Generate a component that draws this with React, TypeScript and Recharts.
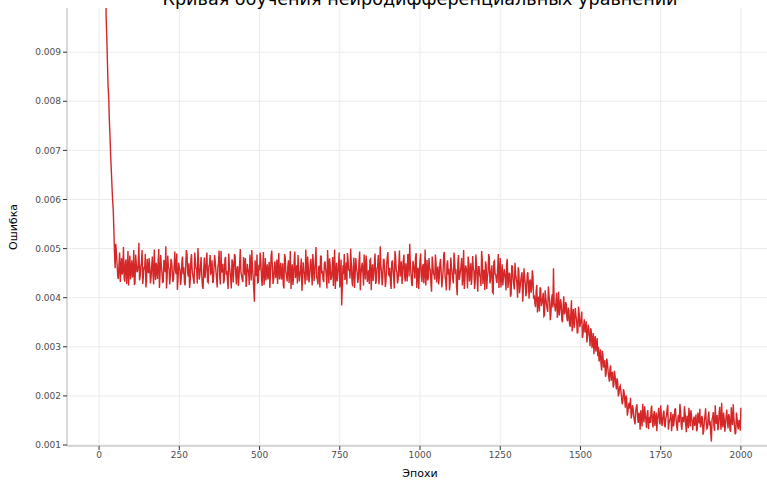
import React from "react"
import { LineChart, Line, XAxis, YAxis, CartesianGrid } from "recharts"

// loss values are stored in units of 1e-5
const LOSS_UNIT = 1e-5

const earlyEpochs = [0, 5, 10, 15, 20, 22, 24, 26, 28, 30, 32, 34, 36, 38, 40, 42, 44, 46, 48, 50, 52]
const earlyLoss = [4500, 3000, 2100, 1450, 1080, 970, 930, 880, 830, 810, 760, 730, 690, 660, 630, 600, 580, 540, 490, 460, 510]

const epochStep = 4

// epochs 56, 60, ... 2000
const lossA = [
  470, 438, 492, 461, 447, 503, 433, 478, 452, 425, 486, 459, 441, 497, 430, 468, 455, 512, 444, 472, 428, 463, 489, 437, 458,
  481, 429, 466, 445, 498, 436, 459, 474, 420, 487, 450, 433, 469, 505, 441, 462, 427, 479, 455, 438, 494, 448, 416, 471, 457,
  439, 484, 462, 425, 497, 451, 470, 434, 489, 446, 428, 475, 458, 501, 437, 466, 443, 418, 482, 454, 492, 431, 468, 449, 476,
  433, 487, 455, 421, 470, 442, 495, 460, 429, 478, 447, 436, 490, 452, 419, 473, 458, 484, 427, 464, 440, 499, 445, 432, 469,
  481, 438, 457, 426, 472, 497, 444, 392, 463, 488, 431, 456, 475, 424, 493, 447, 435, 468, 452, 420, 485, 461, 437, 474, 449,
  428, 491, 454, 437, 470, 419, 482, 445, 463, 430, 495, 451, 426, 477, 440, 466, 487, 433, 458, 414, 472, 449, 498, 435, 460,
  443, 479, 425, 467, 452, 503, 438, 462, 421, 486, 455, 432, 474, 446, 497, 429, 468, 441, 483, 457, 418, 471, 450, 492, 436,
  384, 466, 489, 443, 427, 475, 458, 500, 434, 463, 420, 481, 452, 439, 494, 447, 471, 425, 460, 486, 432, 456, 477, 415, 468,
  449, 490, 436, 463, 427, 505, 454, 441, 478, 422, 466, 493, 445, 431, 472, 458, 419, 484, 451, 437, 496, 462, 428, 475, 444,
  470, 433, 486, 510, 448, 424, 467, 439, 491, 455, 418, 476, 443, 462, 429, 498, 450, 435, 481, 457, 412, 469, 446, 488, 431,
  464, 440, 479, 421, 455, 493, 434, 468, 447, 415, 482, 451, 429, 474, 458, 405, 487, 443, 466, 425, 497, 438, 460, 419, 472,
  449, 426, 485, 455, 432, 470, 412, 463, 441, 495, 428, 457, 474, 418, 451, 482, 437, 466, 409, 475, 447, 430, 489, 456, 421,
  468, 440, 452, 415, 479, 433, 448, 407, 463, 426, 471, 438, 400, 455, 421, 446, 392, 460, 430, 413, 452, 398, 437, 419, 444,
  405, 381, 426, 396, 372, 418, 389, 410, 364, 401, 378, 423, 391, 368, 407, 460, 383, 395, 359, 412, 376, 388, 350, 403, 370,
  386, 352, 374, 341, 395, 362, 338, 379, 355, 330, 368, 347, 372, 325, 356, 334, 309, 345, 320, 338, 297, 328, 311, 290, 318,
  300, 279, 265, 292, 258, 273, 246, 268, 240, 255, 231, 249, 222, 240, 213, 228, 204, 221, 197, 189, 208, 176, 195, 168, 186,
  196, 162, 175, 150, 168, 183, 145, 160, 171, 138, 157, 179, 149, 164, 132, 158, 172, 147, 161, 139, 166, 153, 176, 142, 159,
  148, 170, 136, 159, 182, 144, 155, 128, 163, 149, 175, 138, 157, 146, 168, 131, 152, 179, 141, 160, 134, 156, 171, 145, 150,
  139, 162, 133, 151, 174, 142, 155, 127, 160, 146, 135, 168, 149, 107, 157, 138, 181, 143, 130, 164, 148, 186, 136, 153, 141,
  172, 134, 158, 127, 149, 183, 139, 125, 155, 132, 146, 176,
]

// epochs 58, 62, ... 1998
const lossB = [
  445, 467, 432, 481, 456, 440, 472, 428, 495, 461, 437, 476, 449, 426, 488, 452, 470, 435, 463, 497, 443, 458, 421, 479, 450,
  462, 441, 484, 427, 456, 471, 438, 499, 448, 465, 430, 477, 452, 419, 486, 459, 444, 473, 432, 468, 455, 490, 437, 461, 426,
  473, 448, 431, 466, 489, 443, 420, 478, 455, 437, 492, 460, 429, 471, 446, 483, 423, 457, 440, 475, 433, 464, 487, 451, 430,
  458, 474, 439, 462, 496, 427, 451, 469, 436, 483, 455, 418, 466, 441, 478, 431, 489, 445, 460, 424, 471, 452, 437, 483, 446,
  422, 469, 451, 488, 435, 460, 417, 476, 444, 430, 467, 492, 441, 459, 426, 481, 456, 437, 473, 449, 496, 428, 462, 440, 478,
  463, 437, 471, 445, 426, 489, 452, 433, 476, 457, 418, 468, 440, 494, 455, 429, 461, 446, 480, 436, 452, 427, 466, 484, 431,
  468, 452, 489, 434, 476, 441, 427, 465, 483, 449, 437, 470, 458, 419, 462, 480, 436, 455, 424, 498, 447, 433, 466, 421, 478,
  425, 448, 436, 472, 491, 455, 439, 468, 423, 482, 447, 460, 430, 474, 415, 463, 451, 488, 437, 469, 445, 428, 479, 456, 434,
  471, 428, 459, 487, 440, 466, 425, 478, 452, 434, 483, 447, 461, 418, 476, 439, 495, 456, 429, 468, 443, 474, 450, 488, 433,
  452, 489, 443, 466, 428, 475, 455, 482, 420, 461, 447, 490, 432, 469, 453, 425, 477, 441, 460, 429, 484, 448, 437, 470, 456,
  427, 469, 452, 436, 488, 445, 415, 476, 459, 431, 463, 439, 492, 448, 422, 470, 436, 455, 481, 443, 418, 466, 451, 484, 433,
  470, 441, 459, 418, 488, 437, 463, 446, 424, 478, 452, 415, 467, 443, 489, 429, 456, 411, 473, 448, 435, 462, 420, 481, 440,
  425, 458, 436, 470, 420, 451, 402, 466, 439, 417, 448, 428, 462, 409, 435, 452, 418, 440, 403, 447, 425, 434, 410, 456, 398,
  389, 414, 370, 402, 421, 383, 399, 362, 415, 387, 371, 405, 354, 396, 380, 389, 372, 410, 377, 364, 397, 355, 382, 366, 391,
  357, 380, 345, 369, 331, 377, 350, 363, 327, 382, 340, 358, 318, 344, 329, 352, 322, 336, 301, 330, 314, 285, 322, 305, 281,
  270, 295, 252, 283, 262, 239, 276, 251, 229, 262, 245, 217, 251, 226, 236, 199, 218, 210, 183, 214, 192, 201, 160, 181, 174,
  154, 181, 158, 142, 177, 155, 166, 131, 153, 184, 146, 163, 135, 171, 150, 145, 180, 136, 169, 152, 128, 162, 147, 181, 139,
  163, 141, 155, 173, 131, 150, 167, 145, 138, 172, 152, 129, 161, 184, 140, 157, 146, 165, 126, 153, 176, 138, 161, 130, 158,
  151, 128, 166, 144, 136, 159, 121, 148, 175, 133, 158, 140, 124, 152, 167, 129, 149, 161, 137, 178, 131, 145, 166, 127, 159,
  148, 163, 131, 177, 141, 156, 122, 166, 138, 151, 129,
]

const xTicks = [0, 250, 500, 750, 1000, 1250, 1500, 1750, 2000]
const yTicks = [0.001, 0.002, 0.003, 0.004, 0.005, 0.006, 0.007, 0.008, 0.009]

const data = [
  ...earlyEpochs.map((epoch, i) => ({ epoch, loss: earlyLoss[i] * LOSS_UNIT })),
  ...lossA.map((v, i) => ({ epoch: 56 + i * epochStep, loss: v * LOSS_UNIT })),
  ...lossB.map((v, i) => ({ epoch: 58 + i * epochStep, loss: v * LOSS_UNIT })),
].sort((a, b) => a.epoch - b.epoch)

const font = "DejaVu Sans"
const tickStyle = { fontSize: 9, fill: "#4d4d4d", fontFamily: font }

const YLabel = ({ viewBox }: any) => {
  const cy = viewBox.y + viewBox.height / 2
  return (
    <text x={13} y={cy} transform={`rotate(-90 13 ${cy})`} textAnchor="middle" dominantBaseline="central"
      fontSize={11} fontFamily={font} fill="#000">
      Ошибка
    </text>
  )
}

const XLabel = ({ viewBox }: any) => (
  <text x={viewBox.x + viewBox.width / 2} y={477} textAnchor="middle" fontSize={11} fontFamily={font} fill="#000">
    Эпохи
  </text>
)

export default function App() {
  return (
    <div style={{ position: "absolute", left: 0, top: 0, width: 767, height: 481, overflow: "hidden", background: "#fff" }}>
      <LineChart width={773} height={481} data={data} margin={{ top: 8, right: 0, bottom: 0, left: 0 }}>
        <CartesianGrid stroke="#ebebeb" strokeWidth={1} verticalValues={xTicks} horizontalValues={yTicks} />
        <XAxis
          dataKey="epoch"
          type="number"
          domain={[-100, 2100]}
          ticks={xTicks}
          height={35}
          tick={tickStyle}
          tickSize={4}
          tickMargin={2}
          tickLine={{ stroke: "#333333" }}
          axisLine={{ stroke: "#b3b3b3" }}
          label={<XLabel />}
        />
        <YAxis
          type="number"
          domain={[0.00098, 0.0099]}
          allowDataOverflow
          ticks={yTicks}
          width={67}
          tick={tickStyle}
          tickFormatter={(v: number) => v.toFixed(3)}
          tickSize={4}
          tickMargin={2}
          tickLine={{ stroke: "#333333" }}
          axisLine={{ stroke: "#b3b3b3" }}
          label={<YLabel />}
        />
        <Line
          type="linear"
          dataKey="loss"
          stroke="#d62728"
          strokeWidth={1.4}
          dot={false}
          isAnimationActive={false}
        />
      </LineChart>
      <svg width={773} height={20} style={{ position: "absolute", left: 0, top: 0 }}>
        <text x={420} y={5} textAnchor="middle" fontSize={17.6} fontFamily={font} fill="#000">
          Кривая обучения нейродифференциальных уравнений
        </text>
      </svg>
    </div>
  )
}
